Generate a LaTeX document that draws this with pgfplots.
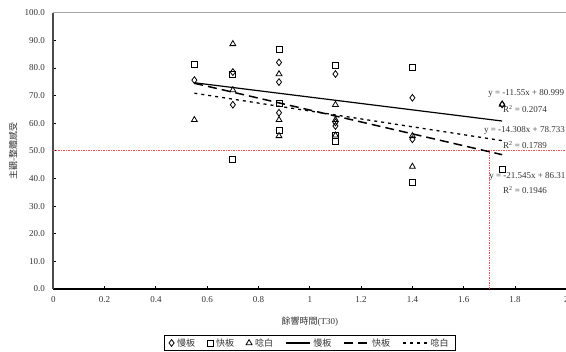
\documentclass[border=0pt]{standalone}
\usepackage{fontspec}
\setmainfont{Liberation Serif}
\newfontfamily\cjk{Noto Sans CJK TC}
\usepackage{pgfplots}
\usepackage{pgfplotstable}
\pgfplotsset{compat=1.18}
\definecolor{refred}{RGB}{245,80,80}
\pgfplotsset{longleg/.style={legend image code/.code={\draw[##1] (0cm,0cm) -- (0.85cm,0cm);}}}

\pgfplotstableread{
x y
0.55 75.6
0.70 66.7
0.70 78.5
0.88 82.0
0.88 74.9
0.88 63.8
1.10 77.8
1.10 60.3
1.10 59.0
1.40 69.2
1.40 54.2
1.75 66.8
}\slow
\pgfplotstableread{
x y
0.55 81.2
0.70 77.8
0.70 46.9
0.88 86.7
0.88 67.0
0.88 57.3
1.10 81.1
1.10 55.6
1.10 53.3
1.40 80.1
1.40 38.7
1.75 43.3
}\fast
\pgfplotstableread{
x y
0.55 61.2
0.70 88.7
0.70 72.0
0.88 77.8
0.88 61.2
0.88 55.4
1.10 66.7
1.10 61.2
1.10 55.6
1.40 55.4
1.40 44.3
1.75 66.8
}\speech

\begin{document}
\begin{tikzpicture}
\begin{axis}[
  at={(0,0)}, anchor=south west,
  scale only axis, width=513pt, height=276.3pt,
  xmin=0, xmax=2, ymin=0, ymax=100,
  clip=false,
  axis lines*=left,
  x axis line style={black, line width=1.2pt},
  y axis line style={black!70, line width=1.6pt},
  tick align=inside, major tick length=3pt,
  tick style={black, line width=0.8pt},
  xtick={0,0.2,0.4,0.6,0.8,1,1.2,1.4,1.6,1.8,2},
  xticklabels={0,0.2,0.4,0.6,0.8,1,1.2,1.4,1.6,1.8,2},
  ytick={0,10,20,30,40,50,60,70,80,90,100},
  yticklabels={0.0,10.0,20.0,30.0,40.0,50.0,60.0,70.0,80.0,90.0,100.0},
  tick label style={font=\fontsize{9}{10}\selectfont, text=black!80},
  yticklabel style={xshift=-5pt},
  xticklabel style={yshift=-4pt},
  xlabel={{\cjk 餘響時間}(T30)},
  xlabel style={at={(axis description cs:0.5,-0.119)}, anchor=center, font=\fontsize{9}{10}\selectfont, text=black!80},
  ylabel={\cjk 主觀-整體感受},
  ylabel style={at={(axis description cs:-0.078,0.5)}, anchor=center, font=\fontsize{9}{10}\selectfont, text=black!80},
  legend columns=6,
  legend style={at={(0.5,-0.1954)}, anchor=center, draw=black, line width=0.8pt,
    font=\cjk\fontsize{9}{10}\selectfont, text=black!80, inner xsep=5pt, inner ysep=1pt,
    /tikz/every odd column/.append style={column sep=1pt},
    /tikz/every even column/.append style={column sep=10pt}},
]
\addplot[forget plot, refred, line width=0.8pt, dash pattern=on 1.5pt off 1pt] coordinates {(0,50) (2,50)};
\addplot[forget plot, refred, line width=1pt, dash pattern=on 1.5pt off 1pt] coordinates {(1.7,0) (1.7,50)};

\addplot[only marks, mark=diamond, mark size=3.4pt, mark options={black, line width=0.8pt, fill=white}] table {\slow};
\addplot[only marks, mark=square, mark size=3pt, mark options={black, line width=0.8pt, fill=white}] table {\fast};
\addplot[only marks, mark=triangle, mark size=3.4pt, mark options={black, line width=0.8pt, fill=white}] table {\speech};

\addplot[black, line width=1.2pt, longleg] coordinates {(0.55,74.65) (1.75,60.79)};
\addplot[black, line width=1.5pt, dash pattern=on 9pt off 5pt, longleg] coordinates {(0.55,74.46) (1.75,48.61)};
\addplot[black, line width=1.3pt, dash pattern=on 3pt off 4pt, longleg] coordinates {(0.55,70.86) (1.75,53.69)};
\legend{慢板,快板,唸白,慢板,快板,唸白}

\draw[black!35, line width=0.8pt] (rel axis cs:0,1) -- (rel axis cs:1,1);

\begin{scope}[every node/.style={anchor=west, font=\fontsize{9}{10}\selectfont, text=black!80, inner sep=0pt}]
\node at (axis cs:1.695,70.6) {y = -11.55x + 80.999};
\node at (axis cs:1.753,65.1) {R\textsuperscript{2} = 0.2074};
\node at (axis cs:1.679,57.2) {y = -14.308x + 78.733};
\node at (axis cs:1.753,52.1) {R\textsuperscript{2} = 0.1789};
\node at (axis cs:1.699,40.9) {y = -21.545x + 86.31};
\node at (axis cs:1.753,35.8) {R\textsuperscript{2} = 0.1946};
\end{scope}
\end{axis}
\pgfresetboundingbox
\path[use as bounding box] (-53.3pt,-63pt) rectangle (512.7pt,289pt);
\end{tikzpicture}
\end{document}
